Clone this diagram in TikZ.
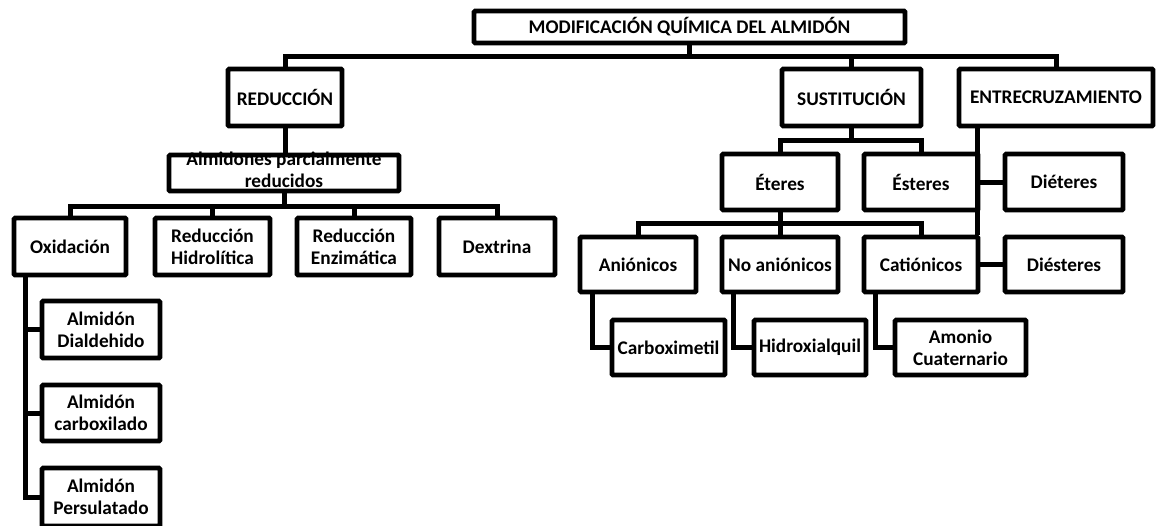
\documentclass[tikz,border=0pt]{standalone}
\usepackage{fontspec}
\setmainfont{Carlito}
\begin{document}
\begin{tikzpicture}[x=1pt,y=-1pt,
  box/.style={draw=black, line width=4.6pt, fill=white, inner sep=0pt, align=center,
    rounded corners=1pt, font=\bfseries\fontsize{19.3}{22}\selectfont},
  link/.style={draw=black, line width=5pt}]
\useasboundingbox (0,0) rectangle (1156,525);
% level 0
\node[box, minimum width=431pt, minimum height=32pt] (title) at (689.5,27) {MODIFICACIÓN QUÍMICA DEL ALMIDÓN};
% level 1
\node[box, minimum width=114pt, minimum height=57pt] (reduccion) at (285,97.5) {REDUCCIÓN};
\node[box, minimum width=139pt, minimum height=57pt] (sust) at (851.5,97.5) {SUSTITUCIÓN};
\node[box, minimum width=194pt, minimum height=57pt] (entre) at (1056,97.5) {ENTRECRUZAMIENTO};
% reduccion branch
\node[box, minimum width=230pt, minimum height=36pt,
  label={[font=\bfseries\fontsize{19.3}{22}\selectfont, align=center, yshift=3pt]center:Almidones parcialmente\\reducidos}] (almid) at (284,173) {};
\node[box, minimum width=112pt, minimum height=57pt] (oxid) at (70,246.5) {Oxidación};
\node[box, minimum width=115pt, minimum height=57pt] (rh) at (212.5,246.5) {Reducción\\Hidrolítica};
\node[box, minimum width=114pt, minimum height=57pt] (re) at (354,246.5) {Reducción\\Enzimática};
\node[box, minimum width=116pt, minimum height=57pt] (dext) at (497,246.5) {Dextrina};
\node[box, minimum width=118pt, minimum height=57pt] (dial) at (101,329.5) {Almidón\\Dialdehido};
\node[box, minimum width=118pt, minimum height=56pt] (carb) at (101,413) {Almidón\\carboxilado};
\node[box, minimum width=118pt, minimum height=58pt] (pers) at (101,497) {Almidón\\Persulatado};
% sustitucion branch
\node[box, minimum width=116pt, minimum height=56pt] (eteres) at (780,182) {Éteres};
\node[box, minimum width=114pt, minimum height=56pt] (esteres) at (921,182) {Ésteres};
\node[box, minimum width=118pt, minimum height=56pt] (dieteres) at (1064,182) {Diéteres};
\node[box, minimum width=116pt, minimum height=55pt] (anion) at (638,264.5) {Aniónicos};
\node[box, minimum width=116pt, minimum height=55pt] (noanion) at (780,264.5) {No aniónicos};
\node[box, minimum width=114pt, minimum height=55pt] (cation) at (921,264.5) {Catiónicos};
\node[box, minimum width=118pt, minimum height=55pt] (diest) at (1064,264.5) {Diésteres};
\node[box, minimum width=113pt, minimum height=55pt] (carbox) at (668.5,347.5) {Carboximetil};
\node[box, minimum width=112pt, minimum height=55pt] (hidrox) at (810,347.5) {Hidroxialquil};
\node[box, minimum width=131pt, minimum height=55pt] (amonio) at (960.5,347.5) {Amonio\\Cuaternario};
% helper coordinates
\coordinate (b1) at (0,56);
\coordinate (b2) at (0,206);
\coordinate (b3) at (0,140);
\coordinate (b4) at (0,223);
\coordinate (ox) at (25,0);
\coordinate (ex) at (977,0);
\coordinate (ax) at (592,0);
\coordinate (nx) at (733,0);
\coordinate (cx) at (875,0);
% connectors
\path[link] (reduccion.north) |- (entre.north |- b1) -- (entre.north);
\path[link] (title.south) -- (title.south |- b1);
\path[link] (sust.north) -- (sust.north |- b1);
\path[link] (reduccion.south) -- (reduccion.south |- almid.north);
\path[link] (oxid.north) |- (dext.north |- b2) -- (dext.north);
\path[link] (almid.south) -- (almid.south |- b2);
\path[link] (rh.north) -- (rh.north |- b2);
\path[link] (re.north) -- (re.north |- b2);
\path[link] (oxid.south -| ox) |- (pers.west);
\path[link] (dial.west) -- (dial.west -| ox);
\path[link] (carb.west) -- (carb.west -| ox);
\path[link] (eteres.north) |- (esteres.north |- b3) -- (esteres.north);
\path[link] (sust.south) -- (sust.south |- b3);
\path[link] (entre.south -| ex) -- (cation.north -| ex);
\path[link] (esteres.east) -- (dieteres.west);
\path[link] (anion.north) |- (cation.north |- b4) -- (cation.north);
\path[link] (eteres.south) -- (noanion.north);
\path[link] (cation.east) -- (diest.west);
\path[link] (anion.south -| ax) |- (carbox.west);
\path[link] (noanion.south -| nx) |- (hidrox.west);
\path[link] (cation.south -| cx) |- (amonio.west);
\end{tikzpicture}
\end{document}
